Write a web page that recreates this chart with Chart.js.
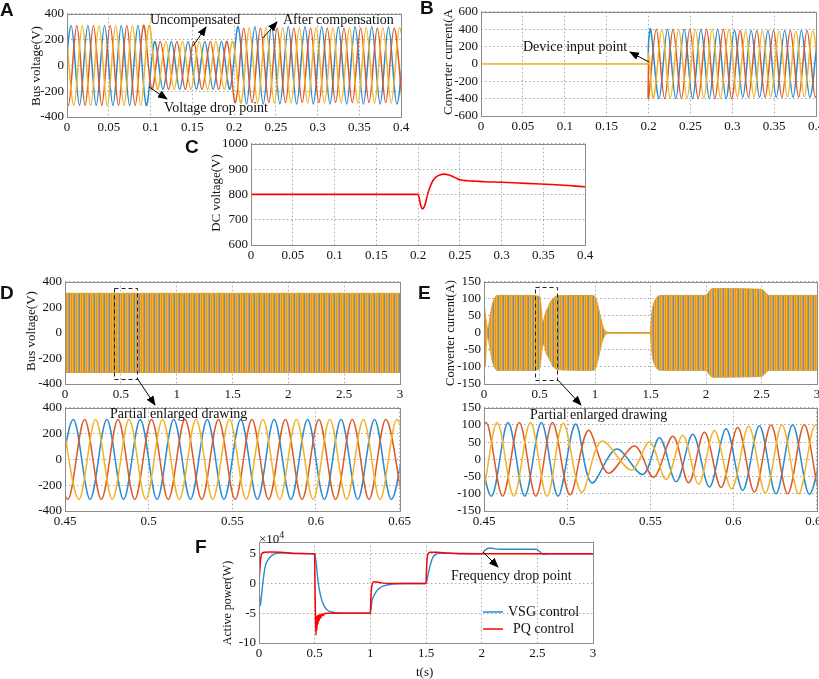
<!DOCTYPE html>
<html lang="en">
<head>
<meta charset="UTF-8">
<title>Bus voltage, converter current and active power waveforms</title>
<script src="https://cdn.jsdelivr.net/npm/chart.js@4"></script>
<style>
  html, body { margin: 0; padding: 0; background: #fff; }
  body { width: 819px; height: 679px; position: relative; overflow: hidden; font-family: 'Liberation Serif', serif; color: #111; }
  .t { position: absolute; font-size: 14px; line-height: 16px; white-space: nowrap; z-index: 2; }
  .v { position: absolute; font-size: 13px; line-height: 15px; white-space: nowrap; transform: translate(-50%, -50%) rotate(-90deg); z-index: 2; }
  .lt { position: absolute; font: bold 19px 'Liberation Sans', Arial, sans-serif; line-height: 19px; z-index: 2; }
  svg { position: absolute; left: 0; top: 0; z-index: 3; }
</style>
</head>
<body>

<div class="lt" style="left:0px;top:0px">A</div>
<div class="lt" style="left:420px;top:-2px">B</div>
<div class="lt" style="left:185px;top:137px">C</div>
<div class="lt" style="left:0px;top:283px">D</div>
<div class="lt" style="left:418px;top:283px">E</div>
<div class="lt" style="left:195px;top:537px">F</div>

<div class="v" style="left:35px;top:66px">Bus voltage(V)</div>
<div class="v" style="left:447px;top:62px">Converter current(A</div>
<div class="v" style="left:215px;top:193px">DC voltage(V)</div>
<div class="v" style="left:30px;top:331px">Bus voltage(V)</div>
<div class="v" style="left:450px;top:333px;font-size:12.5px">Converter current(A)</div>
<div class="v" style="left:227px;top:603px;font-size:12px">Active power(W)</div>

<div class="t" style="left:150px;top:12px">Uncompensated</div>
<div class="t" style="left:283px;top:12px">After compensation</div>
<div class="t" style="left:164px;top:100px">Voltage drop point</div>
<div class="t" style="left:523px;top:39px">Device input point</div>
<div class="t" style="left:110px;top:406px">Partial enlarged drawing</div>
<div class="t" style="left:530px;top:407px">Partial enlarged drawing</div>
<div class="t" style="left:451px;top:568px">Frequency drop point</div>
<div class="t" style="left:508px;top:604px">VSG control</div>
<div class="t" style="left:513px;top:621px">PQ control</div>
<div class="t" style="left:259px;top:528px;font-size:13px;line-height:13px">&times;10<sup style="font-size:10px;vertical-align:5px">4</sup></div>
<div class="t" style="left:416px;top:664px;font-size:13px">t(s)</div>

<svg width="819" height="679">
  <defs>
    <marker id="ah" markerUnits="userSpaceOnUse" markerWidth="10" markerHeight="8" refX="9" refY="4" orient="auto">
      <path d="M0,0 L10,4 L0,8 z" fill="#000"/>
    </marker>
  </defs>
  <g stroke="#000" stroke-width="1" marker-end="url(#ah)">
    <line x1="193" y1="46" x2="206" y2="27"/>
    <line x1="263" y1="38" x2="277" y2="22"/>
    <line x1="149" y1="87" x2="167" y2="99"/>
    <line x1="649" y1="62" x2="630" y2="52"/>
    <line x1="137" y1="378" x2="155" y2="405"/>
    <line x1="557" y1="379" x2="581" y2="405"/>
    <line x1="483" y1="552" x2="498" y2="567"/>
  </g>
  <line x1="483" y1="612" x2="503" y2="612" stroke="#2b8ad0" stroke-width="1.5"/>
  <line x1="483" y1="629" x2="503" y2="629" stroke="#ff0000" stroke-width="1.5"/>
</svg>

<script>
// ---------- data ----------
const halfPeriod = 0.01; // 50 Hz grid, one peak every half cycle

// A: bus voltage peaks (per phase, one value per half cycle)
const aStart = { blue: -0.005, red: -0.00833, yellow: -0.00167 };
const aBlue = [-310,310,-310,310,-310,310,-310,310,-310,310,-310,
  185,-185,185,-185,185,-185,185,-185,185,-185,
  300,-300,300,-300,300,-300,300,-300,300,-300,300,-300,300,-300,300,-300,300,-300,300,-300,300];
const aRed = [310,-310,310,-310,310,-310,310,-310,310,-310,310,
  -185,185,-185,185,-185,185,-185,185,-185,185,
  -288,288,-288,288,-288,288,-288,288,-288,288,-288,288,-288,288,-288,288,-288,288,-288,288,-288];
const aYellow = [310,-310,310,-310,310,-310,310,-310,310,-310,310,
  -185,185,-185,185,-185,185,-185,185,-185,185,
  -292,292,-292,292,-292,292,-292,292,-292,292,-292,292,-292,292,-292,292,-292,292,-292,292,-292];

// B: converter current, zero until the device is switched in at 0.2 s
const bOn = 0.2;
const bZeroT = [0, 0.2];
const bZeroV = [0, 0];
const bStart = { blue: 0.2026, red: 0.2093, yellow: 0.206 };
const bInit = { blue: 236, red: -395, yellow: 118 };
const bBlue = [400,-400,400,-400,400,-400,400,-400,400,-400,385,-385,385,-385,385,-385,385,-385,385,-385,385];
const bRed = [400,-400,400,-400,400,-400,400,-400,400,-400,385,-385,385,-385,385,-385,385,-385,385,-385,385];
const bYellow = [-395,395,-395,395,-395,395,-395,395,-395,395,-380,380,-380,380,-380,380,-380,380,-380,380,-380];

// C: DC voltage
const cT = [0, 0.2, 0.2015, 0.203, 0.2045, 0.2055, 0.207, 0.209, 0.2115, 0.2145, 0.218, 0.222, 0.226, 0.231, 0.236, 0.241, 0.246, 0.25, 0.26, 0.27, 0.28, 0.3, 0.32, 0.34, 0.36, 0.38, 0.4];
const cV = [800, 800, 785, 760, 746, 743, 748, 766, 800, 830, 855, 870, 877, 880, 878, 872, 864, 858, 854, 852, 850, 848, 845, 842, 839, 835, 830];

// D top: bus voltage envelope over 3 s
const dT = [0, 3];
const dUp = [310, 310];
const dLow = [-310, -310];

// D bottom: enlarged bus voltage
const dbStart = { blue: 0.445, red: 0.4417, yellow: 0.4483 };
const dbBlue = [-310,310,-310,310,-310,310,-310,310,-310,310,-310,310,-310,310,-310,310,-310,310,-310,310,-310,310];
const dbRed = [310,-310,310,-310,310,-310,310,-310,310,-310,310,-310,310,-310,310,-310,310,-310,310,-310,310,-310];
const dbYellow = [310,-310,310,-310,310,-310,310,-310,310,-310,310,-310,310,-310,310,-310,310,-310,310,-310,310,-310];

// E top: converter current envelope over 3 s
const eT   = [0, 0.01, 0.02, 0.035, 0.05, 0.07, 0.09, 0.12, 0.46, 0.48, 0.5, 0.512, 0.52, 0.53, 0.54, 0.55, 0.56, 0.575, 0.59, 0.605, 0.62, 0.64, 0.66, 0.98, 1.0, 1.02, 1.04, 1.06, 1.08, 1.1, 1.13, 1.497, 1.51, 1.52, 1.54, 1.57, 1.6, 2.0, 2.03, 2.06, 2.5, 2.53, 2.57, 3.0];
const eUp  = [90, 60, 35, 12, 40, 75, 98, 110, 110, 108, 107, 86, 55, 32, 40, 52, 65, 73, 85, 94, 100, 106, 109, 110, 106, 88, 60, 32, 12, 4, 1, 1, 50, 75, 95, 108, 110, 110, 123, 130, 128, 120, 110, 110];
const eLow = [-20, -100, -40, -12, -40, -75, -98, -110, -110, -108, -105, -80, -55, -40, -31, -44, -60, -68, -78, -88, -98, -104, -108, -110, -106, -88, -60, -32, -12, -4, -1, -1, -50, -75, -95, -108, -110, -110, -123, -130, -128, -120, -110, -110];

// E bottom: enlarged converter current, peak times and values per phase
const ebRedT = [0.4412, 0.4512, 0.4612, 0.4712, 0.4812, 0.4912, 0.5016, 0.5126, 0.5246, 0.5406, 0.552, 0.5636, 0.5731, 0.5826, 0.5926, 0.6026, 0.6126, 0.6226, 0.6326, 0.6426, 0.6526, 0.6626];
const ebRedV = [-107, 107, -107, 107, -107, 107, -103, 84, -40, 39, -52, 67, -68, 79, -82, 93, -95, 100, -100, 101, -101, 101];
const ebYelT = [0.4379, 0.4479, 0.4579, 0.4679, 0.4779, 0.4879, 0.4976, 0.5086, 0.5206, 0.5386, 0.5496, 0.5596, 0.5696, 0.5791, 0.5886, 0.5989, 0.6092, 0.6192, 0.6292, 0.6392, 0.6492, 0.6592];
const ebYelV = [107, -107, 107, -107, 107, -107, 105, -96, 53, -31, 51, -58, 70, -72, 84, -86, 96, -98, 100, -100, 100, -100];
const ebBluT = [0.4445, 0.4545, 0.4645, 0.4745, 0.4845, 0.4945, 0.505, 0.5146, 0.5296, 0.5456, 0.5556, 0.5656, 0.5756, 0.5856, 0.5956, 0.6056, 0.6156, 0.6256, 0.6356, 0.6456, 0.6556];
const ebBluV = [107, -107, 107, -107, 107, -107, 103, -68, 30, -44, 63, -65, 73, -80, 89, -90, 98, -100, 101, -101, 101];

// F: active power (x 10^4 W)
const vsgT = [0, 0.005, 0.012, 0.02, 0.03, 0.054, 0.084, 0.13, 0.18, 0.25, 0.35, 0.5, 0.515, 0.53, 0.55, 0.58, 0.61, 0.655, 0.72, 0.8, 1.0, 1.015, 1.04, 1.075, 1.12, 1.2, 1.3, 1.5, 1.525, 1.555, 1.58, 1.63, 1.7, 2.0, 2.03, 2.07, 2.16, 2.49, 2.52, 2.55, 2.6, 3.0];
const vsgV = [0, -2.5, -3.7, -2.5, -0.7, 2.7, 4.05, 4.9, 5.1, 5.15, 5.05, 5.0, 3.2, 0.4, -1.8, -3.6, -4.4, -4.8, -4.95, -5, -5, -2.9, -1.8, -0.9, -0.4, -0.1, 0, 0, 2.1, 4.1, 4.8, 5.05, 5.05, 5.0, 5.6, 5.95, 5.75, 5.75, 5.4, 4.9, 5.0, 5.0];
const pqT = [0, 0.008, 0.016, 0.025, 0.05, 0.1, 0.2, 0.3, 0.5, 0.503, 0.507, 0.512, 0.516, 0.52, 0.525, 0.53, 0.535, 0.54, 0.548, 0.556, 0.565, 0.575, 0.59, 0.62, 0.7, 1.0, 1.005, 1.01, 1.02, 1.035, 1.06, 1.1, 1.2, 1.5, 1.505, 1.51, 1.52, 1.535, 1.6, 1.7, 1.8, 3.0];
const pqV = [0, 2.5, 4.3, 5.0, 5.25, 5.3, 5.25, 5.05, 5.0, -1, -5.5, -8.7, -5.6, -7.8, -5.4, -6.8, -5.3, -6.2, -5.2, -5.8, -5.1, -5.4, -5.05, -5.0, -5.0, -5.0, -2.5, -0.9, 0.0, 0.3, 0.25, 0.1, 0, 0, 2.5, 4.2, 5.0, 5.25, 5.25, 5.1, 5.0, 5.0];

// tick labels
const xTicksShort = [0, 0.05, 0.1, 0.15, 0.2, 0.25, 0.3, 0.35, 0.4];
const xTicksLong = [0, 0.5, 1, 1.5, 2, 2.5, 3];
const xTicksZoom = [0.45, 0.5, 0.55, 0.6, 0.65];
const yTicksA = [-400, -200, 0, 200, 400];
const yTicksB = [-600, -400, -200, 0, 200, 400, 600];
const yTicksC = [600, 700, 800, 900, 1000];
const yTicksE = [-150, -100, -50, 0, 50, 100, 150];
const yTicksF = [-10, -5, 0, 5];

// ---------- drawing ----------
const BLUE = '#2b8ad0', RED = '#dc5a28', YEL = '#f0b428';

function pts(xs, ys) { return xs.map((x, i) => ({ x: x, y: ys[i] })); }
function peaks(t0, vals) { return vals.map((v, k) => ({ x: t0 + k * halfPeriod, y: v })); }
function wave(color, data) {
  return { data: data, borderColor: color, borderWidth: 1.5, pointRadius: 0, tension: 1 / 3, fill: false };
}
function smooth(color, data, width) {
  return { data: data, borderColor: color, borderWidth: width || 1.3, pointRadius: 0, cubicInterpolationMode: 'monotone', fill: false };
}
function stripes(cols) {
  const c = document.createElement('canvas');
  c.width = cols.length; c.height = 1;
  const g = c.getContext('2d');
  cols.forEach((col, i) => { g.fillStyle = col; g.fillRect(i, 0, 1, 1); });
  return g.createPattern(c, 'repeat');
}
const dense = stripes([YEL, '#e6922c', YEL, '#e6922c', '#5d95c8']);
function envelope(ts, up, low) {
  return [
    { data: pts(ts, up), borderColor: '#e39a2b', borderWidth: 1, pointRadius: 0, cubicInterpolationMode: 'monotone', fill: '+1', backgroundColor: dense },
    { data: pts(ts, low), borderColor: '#e39a2b', borderWidth: 1, pointRadius: 0, cubicInterpolationMode: 'monotone', fill: false }
  ];
}

const tickFont = { family: "'Liberation Serif', serif", size: 13 };
function axis(min, max, ticks) {
  return {
    type: 'linear', min: min, max: max,
    afterBuildTicks: s => { s.ticks = ticks.map(v => ({ value: v })); },
    ticks: { font: tickFont, color: '#111', padding: 3, maxRotation: 0, autoSkip: false, callback: v => String(v) },
    grid: { color: '#a8a8a8', lineWidth: 1, drawTicks: false },
    border: { display: false, dash: [1.5, 2.5] }
  };
}

const framePlugin = {
  id: 'frame',
  afterDraw(chart, args, opts) {
    const { ctx, chartArea: a, scales } = chart;
    ctx.save();
    ctx.strokeStyle = '#8c8c8c';
    ctx.lineWidth = 1;
    ctx.strokeRect(Math.round(a.left) + 0.5, Math.round(a.top) + 0.5, Math.round(a.right - a.left), Math.round(a.bottom - a.top));
    if (opts && opts.zoom) {
      const z = opts.zoom;
      const xa = scales.x.getPixelForValue(z.x0), xb = scales.x.getPixelForValue(z.x1);
      const ya = scales.y.getPixelForValue(z.y1), yb = scales.y.getPixelForValue(z.y0);
      ctx.strokeStyle = '#222';
      ctx.setLineDash([4, 3]);
      ctx.strokeRect(Math.round(xa) + 0.5, Math.round(ya) + 0.5, Math.round(xb - xa), Math.round(yb - ya));
    }
    ctx.restore();
  }
};

const L = 60, T = 10, R = 14, B = 22;
function makeChart(rect, datasets, xs, ys, frame) {
  const [x1, y1, x2, y2] = rect;
  const w = x2 - x1 + L + R, h = y2 - y1 + T + B;
  const c = document.createElement('canvas');
  c.width = w; c.height = h;
  c.style.cssText = 'position:absolute;z-index:1;left:' + (x1 - L) + 'px;top:' + (y1 - T) + 'px;width:' + w + 'px;height:' + h + 'px';
  document.body.appendChild(c);
  xs.afterFit = s => { s.height = B; };
  ys.afterFit = s => { s.width = L; };
  return new Chart(c, {
    type: 'line',
    data: { datasets: datasets },
    options: {
      responsive: false, animation: false, events: [],
      layout: { padding: { left: 0, top: T, right: R, bottom: 0 } },
      plugins: { legend: { display: false }, tooltip: { enabled: false }, frame: frame || {} },
      scales: { x: xs, y: ys }
    },
    plugins: [framePlugin]
  });
}

// A
makeChart([67, 13, 401, 117], [
  wave(YEL, peaks(aStart.yellow, aYellow)),
  wave(RED, peaks(aStart.red, aRed)),
  wave(BLUE, peaks(aStart.blue, aBlue))
], axis(0, 0.4, xTicksShort), axis(-400, 400, yTicksA));

// B
function bPhase(color, t0, init, vals) {
  return wave(color, [{ x: bOn, y: 0 }, { x: bOn, y: init }].concat(peaks(t0, vals)));
}
makeChart([481, 11, 816, 116], [
  wave(YEL, pts(bZeroT, bZeroV)),
  bPhase(YEL, bStart.yellow, bInit.yellow, bYellow),
  bPhase(RED, bStart.red, bInit.red, bRed),
  bPhase(BLUE, bStart.blue, bInit.blue, bBlue)
], axis(0, 0.4, xTicksShort), axis(-600, 600, yTicksB));

// C
makeChart([251, 143, 585, 245], [
  smooth('#ff0000', pts(cT, cV), 1.6)
], axis(0, 0.4, xTicksShort), axis(600, 1000, yTicksC));

// D top
makeChart([65, 281, 400, 384], envelope(dT, dUp, dLow),
  axis(0, 3, xTicksLong), axis(-400, 400, yTicksA),
  { zoom: { x0: 0.44, x1: 0.645, y0: -355, y1: 355 } });

// D bottom
makeChart([65, 407, 400, 511], [
  wave(YEL, peaks(dbStart.yellow, dbYellow)),
  wave(RED, peaks(dbStart.red, dbRed)),
  wave(BLUE, peaks(dbStart.blue, dbBlue))
], axis(0.45, 0.65, xTicksZoom), axis(-400, 400, yTicksA));

// E top
makeChart([484, 281, 817, 384], envelope(eT, eUp, eLow),
  axis(0, 3, xTicksLong), axis(-150, 150, yTicksE),
  { zoom: { x0: 0.46, x1: 0.66, y0: -136, y1: 136 } });

// E bottom
makeChart([484, 407, 817, 511], [
  wave(YEL, pts(ebYelT, ebYelV)),
  wave(RED, pts(ebRedT, ebRedV)),
  wave(BLUE, pts(ebBluT, ebBluV))
], axis(0.45, 0.65, xTicksZoom), axis(-150, 150, yTicksE));

// F
makeChart([259, 541, 593, 643], [
  smooth('#ff0000', pts(pqT, pqV), 1.5),
  smooth(BLUE, pts(vsgT, vsgV), 1.4)
], axis(0, 3, xTicksLong), axis(-10, 7, yTicksF));
</script>
</body>
</html>
